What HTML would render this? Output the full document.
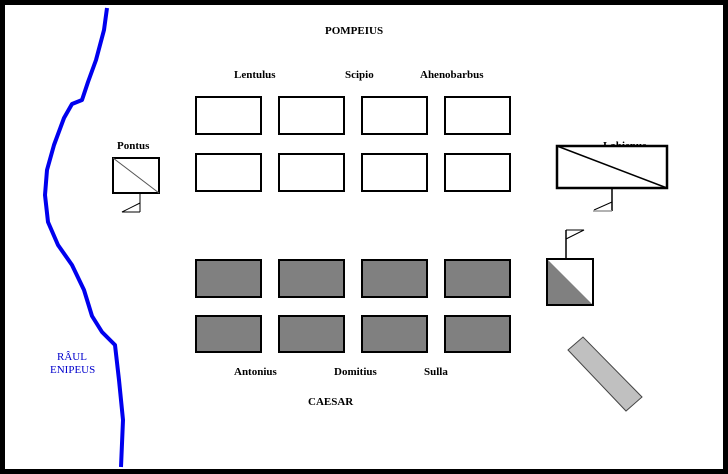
<!DOCTYPE html>
<html><head><style>
html,body{margin:0;padding:0;background:#000;}
svg{display:block}
text{font-family:"Liberation Serif",serif;font-weight:bold;font-size:11px;}
</style></head><body>
<svg width="728" height="474" viewBox="0 0 728 474">
<rect x="5" y="5" width="718" height="464" fill="#fff"/>
<path d="M107,8 L104,30 L96,60 L88,82 L82,100 L72,104 L64,118 L54,145 L47,170 L45,195 L48,222 L58,245 L72,265 L84,290 L92,316 L102,332 L115,345 L119,380 L123,420 L121,467" fill="none" stroke="#0000ee" stroke-width="4" stroke-linejoin="round"/>
<g fill="#fff" stroke="#000" stroke-width="2">
<rect x="196" y="97" width="65" height="37"/><rect x="279" y="97" width="65" height="37"/><rect x="362" y="97" width="65" height="37"/><rect x="445" y="97" width="65" height="37"/>
<rect x="196" y="154" width="65" height="37"/><rect x="279" y="154" width="65" height="37"/><rect x="362" y="154" width="65" height="37"/><rect x="445" y="154" width="65" height="37"/>
</g>
<g fill="#808080" stroke="#000" stroke-width="2">
<rect x="196" y="260" width="65" height="37"/><rect x="279" y="260" width="65" height="37"/><rect x="362" y="260" width="65" height="37"/><rect x="445" y="260" width="65" height="37"/>
<rect x="196" y="316" width="65" height="36"/><rect x="279" y="316" width="65" height="36"/><rect x="362" y="316" width="65" height="36"/><rect x="445" y="316" width="65" height="36"/>
</g>
<!-- Pontus -->
<rect x="113" y="158" width="46" height="35" fill="#fff" stroke="#000" stroke-width="2"/>
<line x1="113" y1="158" x2="159" y2="193" stroke="#555" stroke-width="1"/>
<line x1="140" y1="193" x2="140" y2="212" stroke="#000"/>
<polyline points="140,203 122,212 140,212" fill="none" stroke="#000"/>
<!-- Labienus -->
<text x="603" y="149">Labienus</text>
<rect x="557" y="146" width="110" height="42" fill="#fff" stroke="#000" stroke-width="2.5"/>
<line x1="557" y1="146" x2="667" y2="188" stroke="#000" stroke-width="1.5"/>
<line x1="612" y1="188" x2="612" y2="211" stroke="#000" stroke-width="1.5"/>
<line x1="612" y1="202" x2="594" y2="210" stroke="#000"/>
<line x1="593" y1="211" x2="612" y2="211" stroke="#999" stroke-width="1.5"/>
<!-- Right square -->
<polygon points="547,259 593,305 547,305" fill="#808080"/>
<rect x="547" y="259" width="46" height="46" fill="none" stroke="#000" stroke-width="2"/>
<line x1="566" y1="230" x2="566" y2="259" stroke="#000" stroke-width="1.5"/>
<polyline points="566,230 584,230 566,239" fill="none" stroke="#000"/>
<polygon points="568,350 583,337 642,397 626,411" fill="#c0c0c0" stroke="#444" stroke-width="1"/>
<text x="325" y="34" font-size="13">POMPEIUS</text>
<text x="234" y="78">Lentulus</text>
<text x="345" y="78">Scipio</text>
<text x="420" y="78">Ahenobarbus</text>
<text x="117" y="149">Pontus</text>
<text x="234" y="375">Antonius</text>
<text x="334" y="375">Domitius</text>
<text x="424" y="375">Sulla</text>
<text x="308" y="405" font-size="13">CAESAR</text>
<text x="57" y="360" fill="#0000cc" font-weight="normal" style="font-weight:normal">RÂUL</text>
<text x="50" y="373" fill="#0000cc" style="font-weight:normal">ENIPEUS</text>
</svg>
</body></html>
